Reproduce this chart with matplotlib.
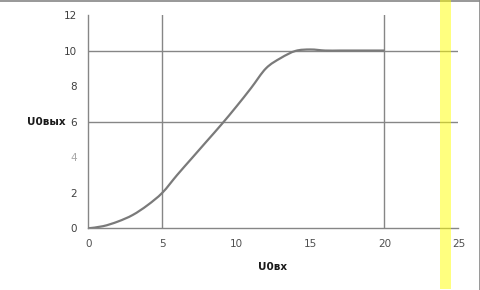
import matplotlib
matplotlib.use("Agg")
import matplotlib.pyplot as plt
from matplotlib.patches import Rectangle, PathPatch
from matplotlib.path import Path
from matplotlib.lines import Line2D

# data
u_in = [0, 1, 2, 3, 4, 5, 6, 7, 8, 9, 10, 11, 12, 13, 14, 15, 16, 17, 18, 19, 20]
u_out = [0, 0.12, 0.38, 0.75, 1.3, 2.0, 3.0, 3.95, 4.9, 5.85, 6.85, 7.9, 9.0,
         9.58, 9.98, 10.06, 10.0, 10.0, 10.0, 10.0, 10.0]
x_ticks = [0, 5, 10, 15, 20, 25]
y_ticks = [0, 2, 4, 6, 8, 10, 12]
x_grid = [5, 20]
y_grid = [6, 10]

grey = "#868686"


# smoothed line like Excel: bezier segments through the data points
def smooth_path(xs, ys, k=1 / 6):
    verts = [(xs[0], ys[0])]
    codes = [Path.MOVETO]
    n = len(xs)
    for i in range(n - 1):
        x0, y0 = xs[max(i - 1, 0)], ys[max(i - 1, 0)]
        x1, y1 = xs[i], ys[i]
        x2, y2 = xs[i + 1], ys[i + 1]
        x3, y3 = xs[min(i + 2, n - 1)], ys[min(i + 2, n - 1)]
        verts += [(x1 + (x2 - x0) * k, y1 + (y2 - y0) * k),
                  (x2 - (x3 - x1) * k, y2 - (y3 - y1) * k),
                  (x2, y2)]
        codes += [Path.CURVE4] * 3
    return Path(verts, codes)


fig = plt.figure(figsize=(4.81, 2.90), dpi=100)
ax = fig.add_axes([88.3 / 481, 1 - 228.3 / 290, 370.2 / 481, 213.3 / 290])

for gx in x_grid:
    ax.axvline(gx, color=grey, lw=1.0, zorder=1)
for gy in y_grid:
    ax.axhline(gy, color=grey, lw=1.0, zorder=1)

ax.add_patch(PathPatch(smooth_path(u_in, u_out), facecolor="none",
                       edgecolor="#7a7a7a", lw=1.6, zorder=3))

ax.set_xlim(0, 25)
ax.set_ylim(0, 12)
ax.set_xticks(x_ticks)
ax.set_yticks(y_ticks)
ax.tick_params(length=0, labelsize=7.5, pad=8, labelcolor="#404040")
for lab in ax.get_yticklabels():
    if lab.get_text() == "4":
        lab.set_color("#a8a8a8")
for lab in ax.get_xticklabels():
    lab.set_color("#505050")

for s in ["top", "right"]:
    ax.spines[s].set_visible(False)
for s in ["left", "bottom"]:
    ax.spines[s].set_color(grey)
    ax.spines[s].set_linewidth(1.0)

fig.text(46 / 481, 1 - 122 / 290, "U0вых", fontsize=7.5, fontweight="bold",
         ha="center", va="center", color="#1a1a1a")
fig.text(273 / 481, 1 - 267 / 290, "U0вх", fontsize=7.5, fontweight="bold",
         ha="center", va="center", color="#1a1a1a")

# frame lines at top and right
fig.add_artist(Line2D([0, 1], [1 - 0.5 / 290, 1 - 0.5 / 290], color=grey, lw=1.2,
                      transform=fig.transFigure))
fig.add_artist(Line2D([1 - 1 / 481, 1 - 1 / 481], [0, 1], color=grey, lw=1.2,
                      transform=fig.transFigure))

# yellow highlight band
fig.add_artist(Rectangle((440 / 481, 1 / 290), 11 / 481, 289 / 290,
                         transform=fig.transFigure, facecolor="#ffff00",
                         alpha=0.5, edgecolor="none", zorder=10))

fig.savefig("out.png", dpi=100)
